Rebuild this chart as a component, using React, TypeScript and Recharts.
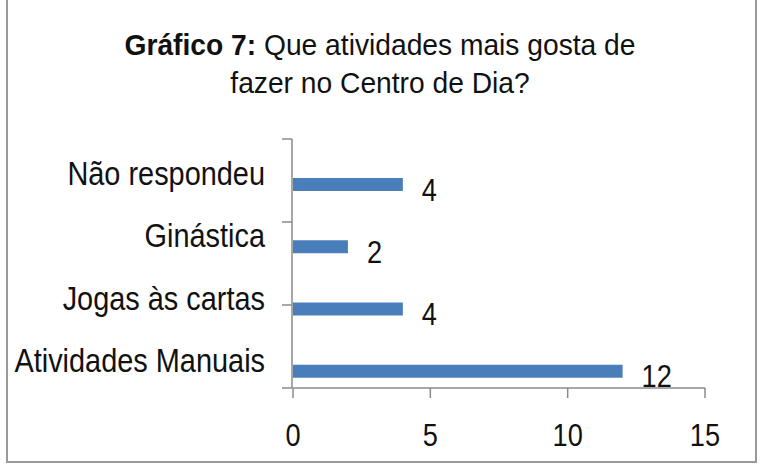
import React from "react";
import {
  BarChart,
  Bar,
  XAxis,
  YAxis,
  LabelList,
} from "recharts";

const categories = [
  "Não respondeu",
  "Ginástica",
  "Jogas às cartas",
  "Atividades Manuais",
];
const respostas = [4, 2, 4, 12];
// segunda série vazia do gráfico original (empurra a barra para baixo na faixa)
const serieVazia = [0, 0, 0, 0];
const xTicks = [0, 5, 10, 15];
const bandTicks = [0, 1, 2, 3, 4];

const data = categories.map((name, i) => ({
  name,
  vazia: serieVazia[i],
  valor: respostas[i],
}));

const FONT = "'Liberation Sans', Arial, sans-serif";
const SX = 0.85; // fonte original é condensada
const AXIS = "#8a8a8a";
const BAR = "#4a7ebb";

const Narrow = ({ x, y, anchor, size, children }: any) => (
  <text
    x={0}
    y={0}
    transform={`translate(${x},${y}) scale(${SX},1)`}
    textAnchor={anchor}
    fontFamily={FONT}
    fontSize={size}
    fill="#111"
  >
    {children}
  </text>
);

// rótulos das categorias, alinhados ao centro da barra visível
const CategoryTick = (props: any) => {
  const { x, y, payload } = props;
  return (
    <Narrow x={x - 22} y={y + 15} anchor="end" size={34}>
      {payload.value}
    </Narrow>
  );
};

const ValueTick = (props: any) => {
  const { x, y, payload } = props;
  return (
    <Narrow x={x} y={y + 46} anchor="middle" size={32}>
      {payload.value}
    </Narrow>
  );
};

const ValueLabel = (props: any) => {
  const { x, y, width, height, value } = props;
  return (
    <Narrow x={x + width + 19} y={y + height / 2 + 16} anchor="start" size={32}>
      {value}
    </Narrow>
  );
};

// só as marcas entre categorias, sem texto
const EmptyTick = () => <g />;

export default function App() {
  return (
    <div
      style={{
        position: "absolute",
        left: 0,
        top: 0,
        width: 760,
        height: 466,
        background: "#fff",
        overflow: "hidden",
      }}
    >
      <div
        style={{
          position: "absolute",
          left: 6,
          top: -4,
          width: 747,
          height: 463,
          border: `2px solid #9a9a9a`,
        }}
      />
      <div
        style={{
          position: "absolute",
          left: 0,
          width: 760,
          top: 26,
          textAlign: "center",
          fontFamily: FONT,
          fontSize: 30,
          lineHeight: "38px",
          color: "#111",
          transform: "scale(0.94,1)",
        }}
      >
        <div>
          <b>Gráfico 7:</b> Que atividades mais gosta de
        </div>
        <div>fazer no Centro de Dia?</div>
      </div>
      <div style={{ position: "absolute", left: 0, top: 0 }}>
        <BarChart
          width={760}
          height={466}
          data={data}
          layout="vertical"
          margin={{ top: 139, right: 55, bottom: 18, left: 0 }}
          barSize={13}
          barGap={16}
        >
          <XAxis
            type="number"
            domain={[0, 15]}
            ticks={xTicks}
            interval={0}
            height={60}
            stroke={AXIS}
            strokeWidth={1.5}
            tickSize={10}
            tickLine={{ stroke: AXIS, strokeWidth: 1.5 }}
            tick={<ValueTick />}
          />
          <YAxis
            type="category"
            dataKey="name"
            width={1}
            axisLine={false}
            tickLine={false}
            tickMargin={0}
            interval={0}
            tick={<CategoryTick />}
          />
          <YAxis
            yAxisId="marcas"
            type="number"
            domain={[0, 4]}
            ticks={bandTicks}
            interval={0}
            width={292}
            stroke={AXIS}
            strokeWidth={1.5}
            tickSize={10}
            tickLine={{ stroke: AXIS, strokeWidth: 1.5 }}
            tick={<EmptyTick />}
          />
          <Bar dataKey="vazia" fill={BAR} isAnimationActive={false} />
          <Bar dataKey="valor" fill={BAR} isAnimationActive={false}>
            <LabelList dataKey="valor" content={<ValueLabel />} />
          </Bar>
        </BarChart>
      </div>
    </div>
  );
}
